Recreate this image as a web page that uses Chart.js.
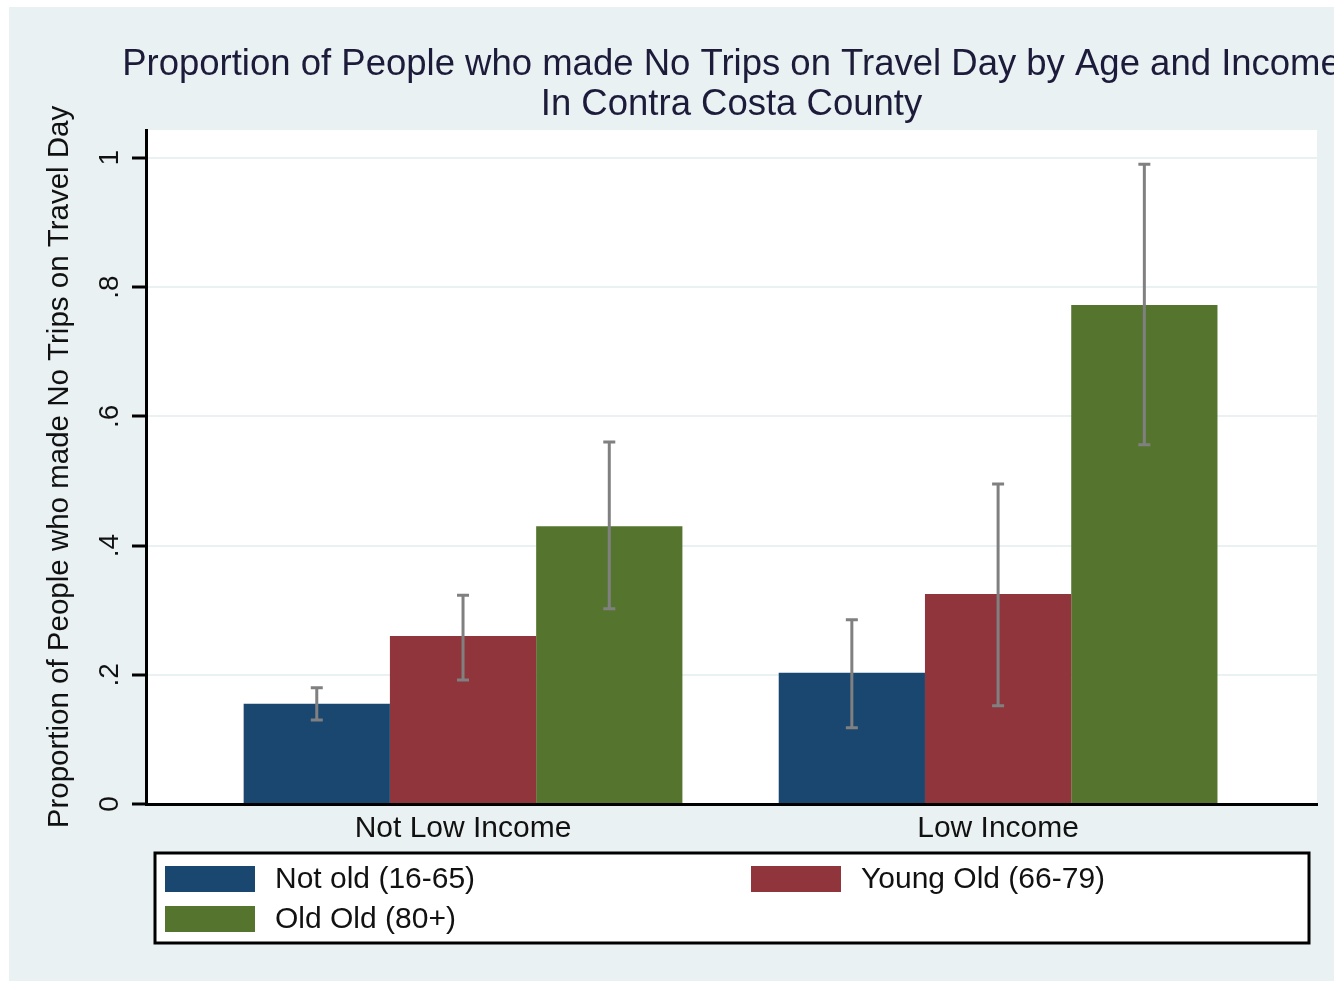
<!DOCTYPE html>
<html>
<head>
<meta charset="utf-8">
<title>No Trips by Age and Income</title>
<script src="https://cdn.jsdelivr.net/npm/chart.js@4.4.1/dist/chart.umd.min.js"></script>
<style>
  html, body { margin: 0; padding: 0; background: #fff; }
  #wrap { position: absolute; left: 0; top: 0; width: 1334px; height: 981px; }
</style>
</head>
<body>
<div id="wrap"><canvas id="grafico" width="1334" height="981"></canvas></div>
<script>
const titleLines = ['Proportion of People who made No Trips on Travel Day by Age and Income', 'In Contra Costa County'];
const yTitle = 'Proportion of People who made No Trips on Travel Day';
const categories = ['Not Low Income', 'Low Income'];
const seriesNames = ['Not old (16-65)', 'Young Old (66-79)', 'Old Old (80+)'];
const seriesColors = ['#1a476f', '#90353b', '#55752f'];

// proportion, lower and upper CI per income group
const notOld = [0.155, 0.203];
const notOldLo = [0.130, 0.118];
const notOldHi = [0.180, 0.285];

const youngOld = [0.260, 0.325];
const youngOldLo = [0.192, 0.152];
const youngOldHi = [0.323, 0.495];

const oldOld = [0.430, 0.772];
const oldOldLo = [0.302, 0.556];
const oldOldHi = [0.560, 0.990];

const yTicks = [0, 0.2, 0.4, 0.6, 0.8, 1];
const yTickLabels = ['0', '.2', '.4', '.6', '.8', '1'];

const FONT = "'Liberation Sans', Arial, sans-serif";
const BG = '#eaf1f3';

const values = [notOld, youngOld, oldOld];
const lows = [notOldLo, youngOldLo, oldOldLo];
const highs = [notOldHi, youngOldHi, oldOldHi];

const datasets = seriesNames.map((name, s) => ({
  label: name,
  data: categories.map((c, i) => ({ x: i, y: values[s][i] })),
  lo: lows[s],
  hi: highs[s],
  backgroundColor: seriesColors[s],
  borderWidth: 0,
  categoryPercentage: 0.82,
  barPercentage: 1.0
}));

const fondo = {
  id: 'fondo',
  beforeDraw(chart) {
    const { ctx, chartArea: a } = chart;
    ctx.save();
    ctx.fillStyle = BG;
    ctx.fillRect(9, 7, chart.width - 9, chart.height - 7);
    ctx.fillStyle = '#fff';
    ctx.fillRect(a.left, a.top, a.right - a.left, a.bottom - a.top);
    ctx.restore();
  }
};

// title is wider than the plot, so draw it without the maxWidth squeeze
const titulo = {
  id: 'titulo',
  afterDraw(chart) {
    const { ctx, chartArea: a } = chart;
    const cx = (a.left + a.right) / 2;
    ctx.save();
    ctx.font = '36.5px ' + FONT;
    ctx.fillStyle = '#1c1c3a';
    ctx.textAlign = 'center';
    ctx.textBaseline = 'middle';
    titleLines.forEach((line, i) => ctx.fillText(line, cx, 65 + i * 40));
    ctx.restore();
  }
};

const barrasError = {
  id: 'barrasError',
  afterDatasetsDraw(chart) {
    const { ctx } = chart;
    const y = chart.scales.y;
    ctx.save();
    ctx.strokeStyle = '#808080';
    ctx.lineWidth = 3;
    chart.data.datasets.forEach((ds, s) => {
      const meta = chart.getDatasetMeta(s);
      meta.data.forEach((bar, i) => {
        const x = bar.x;
        const yl = y.getPixelForValue(ds.lo[i]);
        const yh = y.getPixelForValue(ds.hi[i]);
        ctx.beginPath();
        ctx.moveTo(x, yl); ctx.lineTo(x, yh);
        ctx.moveTo(x - 6, yl); ctx.lineTo(x + 6, yl);
        ctx.moveTo(x - 6, yh); ctx.lineTo(x + 6, yh);
        ctx.stroke();
      });
    });
    ctx.restore();
  }
};

const leyenda = {
  id: 'leyenda',
  afterDraw(chart) {
    const { ctx, chartArea: a } = chart;
    const left = a.left + 9;
    const right = a.right - 8;
    const top = a.bottom + 49;
    const bottom = top + 90;
    ctx.save();
    ctx.fillStyle = '#fff';
    ctx.fillRect(left, top, right - left, bottom - top);
    ctx.strokeStyle = '#000';
    ctx.lineWidth = 3;
    ctx.strokeRect(left, top, right - left, bottom - top);
    ctx.font = '30px ' + FONT;
    ctx.textBaseline = 'middle';
    ctx.textAlign = 'left';
    chart.data.datasets.forEach((ds, s) => {
      const col = s % 2;
      const row = Math.floor(s / 2);
      const sx = left + 10 + col * 586;
      const sy = top + 13 + row * 40;
      ctx.fillStyle = ds.backgroundColor;
      ctx.fillRect(sx, sy, 90, 26);
      ctx.fillStyle = '#111';
      ctx.fillText(ds.label, sx + 110, sy + 14);
    });
    ctx.restore();
  }
};

new Chart(document.getElementById('grafico').getContext('2d'), {
  type: 'bar',
  data: { datasets },
  plugins: [fondo, barrasError, leyenda, titulo],
  options: {
    responsive: false,
    animation: false,
    layout: { padding: { left: 0, right: 17, top: 130, bottom: 132 } },
    plugins: {
      legend: { display: false },
      tooltip: { enabled: false },
      title: { display: false }
    },
    scales: {
      x: {
        type: 'linear',
        offset: false,
        min: -0.5925,
        max: 1.596,
        afterBuildTicks: (scale) => { scale.ticks = categories.map((c, i) => ({ value: i })); },
        afterFit: (scale) => { scale.height = 45; },
        grid: { display: false, drawTicks: false, offset: false },
        border: { display: true, color: '#000', width: 3 },
        ticks: {
          autoSkip: false,
          maxRotation: 0,
          padding: 7,
          color: '#111',
          font: { family: FONT, size: 30 },
          callback: (v) => categories[v]
        }
      },
      y: {
        min: 0,
        max: 1.043,
        afterBuildTicks: (scale) => { scale.ticks = yTicks.map(v => ({ value: v })); },
        afterFit: (scale) => { scale.width = 146; },
        grid: { color: BG, lineWidth: 2, tickColor: '#000', tickWidth: 3, tickLength: 14 },
        border: { display: true, color: '#000', width: 3 },
        ticks: {
          minRotation: 90,
          maxRotation: 90,
          crossAlign: 'center',
          padding: 10,
          color: '#111',
          font: { family: FONT, size: 28 },
          callback: (v, i) => yTickLabels[i]
        },
        title: {
          display: true,
          text: yTitle,
          color: '#111',
          font: { family: FONT, size: 29.5 },
          padding: { top: 42, bottom: 0 }
        }
      }
    }
  }
});
</script>
</body>
</html>
